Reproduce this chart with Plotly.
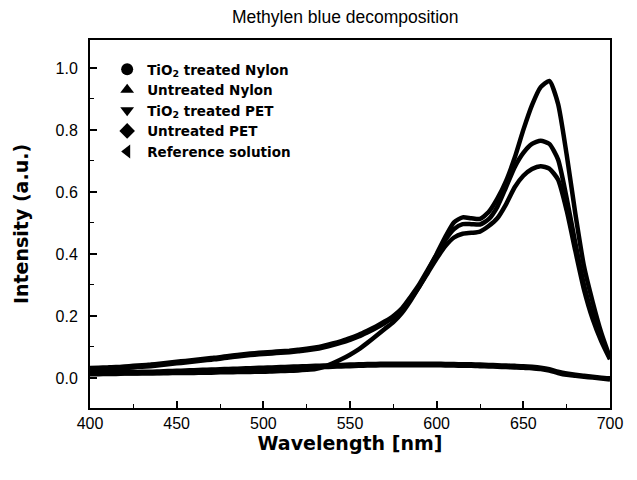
import plotly.graph_objects as go

wavelength = [400, 405, 410, 415, 420, 425, 430, 435, 440, 445,
              450, 455, 460, 465, 470, 475, 480, 485, 490, 495,
              500, 505, 510, 515, 520, 525, 530, 535, 540, 545,
              550, 555, 560, 565, 570, 575, 580, 585, 590, 595,
              600, 605, 610, 615, 620, 625, 630, 635, 640, 645,
              650, 655, 660, 665, 670, 675, 680, 685, 690, 695, 700]

tio2_nylon = [0.012, 0.012, 0.013, 0.013, 0.014, 0.014, 0.015, 0.015, 0.016, 0.017,
              0.018, 0.019, 0.020, 0.021, 0.022, 0.023, 0.024, 0.025, 0.026, 0.027,
              0.028, 0.029, 0.030, 0.031, 0.032, 0.033, 0.034, 0.035, 0.036, 0.037,
              0.038, 0.039, 0.040, 0.040, 0.041, 0.041, 0.041, 0.041, 0.041, 0.041,
              0.041, 0.040, 0.040, 0.039, 0.039, 0.038, 0.037, 0.036, 0.035, 0.034,
              0.033, 0.031, 0.029, 0.024, 0.016, 0.010, 0.007, 0.004, 0.001, -0.002, -0.005]

untreated_nylon = [0.032, 0.033, 0.034, 0.035, 0.037, 0.039, 0.041, 0.043, 0.046, 0.049,
                   0.052, 0.055, 0.058, 0.061, 0.064, 0.067, 0.071, 0.074, 0.077, 0.080,
                   0.082, 0.084, 0.086, 0.088, 0.091, 0.094, 0.098, 0.104, 0.111, 0.119,
                   0.128, 0.139, 0.152, 0.166, 0.182, 0.200, 0.225, 0.262, 0.302, 0.350,
                   0.398, 0.445, 0.480, 0.496, 0.496, 0.495, 0.512, 0.552, 0.615, 0.680,
                   0.726, 0.755, 0.765, 0.755, 0.705, 0.580, 0.435, 0.300, 0.200, 0.125, 0.065]

tio2_pet = [0.017, 0.017, 0.018, 0.018, 0.019, 0.019, 0.020, 0.020, 0.021, 0.022,
            0.023, 0.024, 0.025, 0.026, 0.027, 0.028, 0.029, 0.030, 0.031, 0.032,
            0.033, 0.034, 0.035, 0.036, 0.037, 0.038, 0.039, 0.040, 0.041, 0.042,
            0.043, 0.044, 0.045, 0.045, 0.046, 0.046, 0.046, 0.046, 0.046, 0.046,
            0.046, 0.045, 0.045, 0.044, 0.044, 0.043, 0.042, 0.041, 0.040, 0.039,
            0.038, 0.036, 0.033, 0.028, 0.020, 0.014, 0.010, 0.007, 0.004, 0.001, -0.001]

untreated_pet = [0.027, 0.028, 0.029, 0.030, 0.032, 0.034, 0.036, 0.038, 0.041, 0.044,
                 0.047, 0.050, 0.053, 0.056, 0.059, 0.062, 0.066, 0.069, 0.072, 0.075,
                 0.077, 0.079, 0.081, 0.083, 0.086, 0.089, 0.093, 0.099, 0.106, 0.114,
                 0.123, 0.134, 0.147, 0.161, 0.177, 0.195, 0.220, 0.255, 0.295, 0.340,
                 0.385, 0.425, 0.453, 0.465, 0.468, 0.472, 0.490, 0.515, 0.560, 0.615,
                 0.652, 0.674, 0.683, 0.675, 0.640, 0.540, 0.410, 0.285, 0.190, 0.118, 0.060]

reference = [0.015, 0.015, 0.015, 0.015, 0.015, 0.015, 0.015, 0.015, 0.015, 0.015,
             0.016, 0.016, 0.016, 0.017, 0.017, 0.018, 0.018, 0.019, 0.019, 0.020,
             0.020, 0.021, 0.022, 0.023, 0.024, 0.026, 0.029, 0.036, 0.047, 0.060,
             0.075, 0.092, 0.113, 0.135, 0.158, 0.180, 0.210, 0.250, 0.295, 0.345,
             0.400, 0.455, 0.502, 0.518, 0.515, 0.513, 0.535, 0.578, 0.635, 0.710,
             0.800, 0.880, 0.938, 0.958, 0.885, 0.720, 0.530, 0.360, 0.245, 0.145, 0.065]

series_names = ["<b>TiO<sub>2</sub> treated Nylon</b>", "<b>Untreated Nylon</b>",
                "<b>TiO<sub>2</sub> treated PET</b>", "<b>Untreated PET</b>",
                "<b>Reference solution</b>"]
series_values = [tio2_nylon, untreated_nylon, tio2_pet, untreated_pet, reference]
series_symbols = ["circle", "triangle-up", "triangle-down", "diamond", "triangle-left"]

x_ticks = [400, 450, 500, 550, 600, 650, 700]
y_ticks = [0.0, 0.2, 0.4, 0.6, 0.8, 1.0]

FONT = "Liberation Sans, Arial, sans-serif"
BOLD_FONT = "DejaVu Sans, Verdana, sans-serif"

fig = go.Figure()
for name, vals, sym in zip(series_names, series_values, series_symbols):
    fig.add_trace(go.Scatter(
        x=wavelength, y=vals, mode="lines",
        line=dict(color="black", width=4.5, shape="spline", smoothing=0.6),
        showlegend=False, hoverinfo="skip"))
for name, sym in zip(series_names, series_symbols):
    fig.add_trace(go.Scatter(
        x=[None], y=[None], mode="markers", name=name,
        marker=dict(symbol=sym, size=6, color="black")))

axis_common = dict(
    showline=True, linecolor="black", linewidth=2, mirror=True,
    ticks="inside", ticklen=7, tickwidth=1.5, tickcolor="black",
    showgrid=False, zeroline=False,
    tickfont=dict(family=FONT, size=16, color="black"),
)

fig.update_xaxes(
    range=[400, 700], tickvals=x_ticks, ticklabelstandoff=0,
    minor=dict(ticks="inside", ticklen=4, tickwidth=1.2, tickcolor="black", dtick=25, showgrid=False),
    title=dict(text="<b>Wavelength [nm]</b>",
               font=dict(family=BOLD_FONT, size=19, color="black"), standoff=5),
    **axis_common)
fig.update_yaxes(
    range=[-0.097, 1.09], tickvals=y_ticks, tickformat=".1f", ticklabelstandoff=7,
    minor=dict(ticks="inside", ticklen=4, tickwidth=1.2, tickcolor="black", dtick=0.1, tick0=0, showgrid=False),
    title=dict(text="<b>Intensity (a.u.)</b>",
               font=dict(family=BOLD_FONT, size=19, color="black"), standoff=22),
    **axis_common)

fig.update_layout(
    width=637, height=480,
    margin=dict(l=90, r=27, t=40, b=72),
    paper_bgcolor="white", plot_bgcolor="white",
    title=dict(text="Methylen blue decomposition", x=0.542, xanchor="center", y=0.965, yanchor="middle",
               font=dict(family=FONT, size=17.5, color="black")),
    legend=dict(x=0.033, y=0.962, xanchor="left", yanchor="top",
                bgcolor="rgba(0,0,0,0)", borderwidth=0,
                font=dict(family=BOLD_FONT, size=13.5, color="black"),
                tracegroupgap=0, itemsizing="constant"),
    showlegend=True,
)

fig.write_html("out.html", config={"displayModeBar": False},
               post_script="document.body.style.margin='0';document.body.style.padding='0';")
